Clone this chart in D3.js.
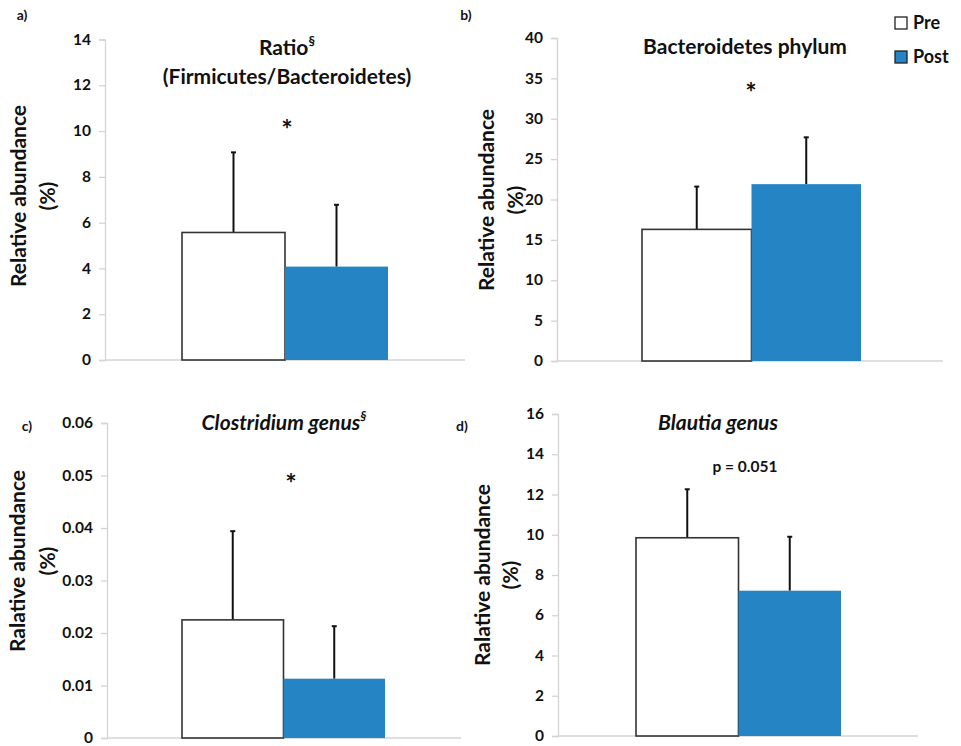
<!DOCTYPE html>
<html>
<head>
<meta charset="utf-8">
<script src="https://cdn.jsdelivr.net/npm/d3@7"></script>
<style>
  body { margin: 0; background: #fff; }
  text { font-family: Lato, "Open Sans", sans-serif; font-weight: bold; fill: #111; }
  .tick text { font-size: 15.5px; }
</style>
</head>
<body>
<div class="chart"></div>
<script>
const width = 961, height = 746;

// groups and values
const groups = ["Pre", "Post"];
const ratioMean = [5.57, 4.08];
const ratioSd = [3.5, 2.7];
const bactMean = [16.3, 21.9];
const bactSd = [5.3, 5.8];
const clostMean = [0.0225, 0.0113];
const clostSd = [0.0169, 0.0100];
const blautiaMean = [9.85, 7.22];
const blautiaSd = [2.41, 2.68];

const ratioTicks = [0, 2, 4, 6, 8, 10, 12, 14];
const bactTicks = [0, 5, 10, 15, 20, 25, 30, 35, 40];
const clostTicks = [0, 0.01, 0.02, 0.03, 0.04, 0.05, 0.06];
const blautiaTicks = [0, 2, 4, 6, 8, 10, 12, 14, 16];

const fillColor = { Pre: "#ffffff", Post: "#2484c4" };

const svg = d3.select(".chart").append("svg")
  .attr("width", width)
  .attr("height", height);

const panels = [
  { tag: "a)", tagX: 22, tagY: 20, axisX: 105, right: 465, top: 39.5, bottom: 360,
    bars: [182, 388], mean: ratioMean, sd: ratioSd, ticks: ratioTicks, fmt: d3.format("d"),
    labelX: 18, pctX: 47, labelY: 196, ylabel: "Relative abundance",
    title: [{ t: "Ratio", sup: "§", y: 55 }, { t: "(Firmicutes/Bacteroidetes)", y: 84 }],
    titleX: 287, italic: false, note: "*", noteX: 287, noteY: 139 },
  { tag: "b)", tagX: 466, tagY: 20, axisX: 557, right: 943, top: 38, bottom: 361,
    bars: [642, 861], mean: bactMean, sd: bactSd, ticks: bactTicks, fmt: d3.format("d"),
    labelX: 486, pctX: 515, labelY: 200, ylabel: "Relative abundance",
    title: [{ t: "Bacteroidetes phylum", y: 54 }],
    titleX: 745, italic: false, note: "*", noteX: 751, noteY: 102 },
  { tag: "c)", tagX: 27, tagY: 431, axisX: 107, right: 461, top: 423, bottom: 738,
    bars: [182, 385], mean: clostMean, sd: clostSd, ticks: clostTicks, fmt: d => d === 0 ? "0" : d3.format(".2f")(d),
    labelX: 17, pctX: 47, labelY: 561, ylabel: "Ralative abundance",
    title: [{ t: "Clostridium genus", sup: "§", y: 430 }],
    titleX: 284, italic: true, note: "*", noteX: 291, noteY: 493 },
  { tag: "d)", tagX: 462, tagY: 431, axisX: 558, right: 918, top: 414, bottom: 736,
    bars: [636, 841], mean: blautiaMean, sd: blautiaSd, ticks: blautiaTicks, fmt: d3.format("d"),
    labelX: 482, pctX: 510, labelY: 575, ylabel: "Ralative abundance",
    title: [{ t: "Blautia genus", y: 430 }],
    titleX: 718, italic: true, note: "p = 0.051", noteX: 745, noteY: 472 }
];

panels.forEach(function (p) {
  const g = svg.append("g");
  const y = d3.scaleLinear()
    .domain([0, p.ticks[p.ticks.length - 1]])
    .range([p.bottom, p.top]);
  const x = d3.scaleBand()
    .domain(groups)
    .range(p.bars)
    .padding(0);

  // y axis
  const axis = g.append("g")
    .attr("transform", "translate(" + p.axisX + ",0)")
    .call(d3.axisLeft(y).tickValues(p.ticks).tickFormat(p.fmt).tickSize(6).tickPadding(8));
  axis.select(".domain").attr("stroke", "#d4d4d4").attr("stroke-width", 1.3);
  axis.selectAll(".tick line").attr("stroke", "#d4d4d4").attr("stroke-width", 1.3);
  axis.selectAll(".tick text").attr("fill", "#111").attr("dy", "0.3em");

  // baseline
  g.append("line")
    .attr("x1", p.axisX).attr("x2", p.right)
    .attr("y1", p.bottom).attr("y2", p.bottom)
    .attr("stroke", "#d4d4d4").attr("stroke-width", 1.3);

  const data = groups.map((k, i) => ({ key: k, mean: p.mean[i], sd: p.sd[i] }));

  // error bars (drawn first so bar top covers the stem base)
  g.selectAll(".err").data(data).enter().append("line")
    .attr("x1", d => x(d.key) + x.bandwidth() / 2)
    .attr("x2", d => x(d.key) + x.bandwidth() / 2)
    .attr("y1", d => y(d.mean))
    .attr("y2", d => y(d.mean + d.sd))
    .attr("stroke", "#111").attr("stroke-width", 2);
  g.selectAll(".cap").data(data).enter().append("line")
    .attr("x1", d => x(d.key) + x.bandwidth() / 2 - 2.5)
    .attr("x2", d => x(d.key) + x.bandwidth() / 2 + 2.5)
    .attr("y1", d => y(d.mean + d.sd))
    .attr("y2", d => y(d.mean + d.sd))
    .attr("stroke", "#111").attr("stroke-width", 2);

  // bars
  g.selectAll(".bar").data(data).enter().append("rect")
    .attr("x", d => x(d.key))
    .attr("y", d => y(d.mean))
    .attr("width", x.bandwidth())
    .attr("height", d => y(0) - y(d.mean))
    .attr("fill", d => fillColor[d.key])
    .attr("stroke", d => d.key === "Pre" ? "#333" : "none")
    .attr("stroke-width", 1.6);

  // titles
  p.title.forEach(function (line) {
    const t = g.append("text")
      .attr("x", p.titleX)
      .attr("y", line.y)
      .attr("text-anchor", "middle")
      .style("font-size", "21px")
      .style("font-style", p.italic ? "italic" : "normal")
      .text(line.t);
    if (line.sup) {
      t.append("tspan")
        .attr("dy", -9)
        .style("font-size", "13px")
        .text(line.sup);
    }
  });

  // significance note
  g.append("text")
    .attr("x", p.noteX)
    .attr("y", p.noteY)
    .attr("text-anchor", "middle")
    .style("font-size", p.note === "*" ? "27px" : "15.5px")
    .text(p.note);

  // panel tag
  g.append("text")
    .attr("x", p.tagX).attr("y", p.tagY)
    .attr("text-anchor", "middle")
    .style("font-size", "14px")
    .text(p.tag);

  // y label
  g.append("text")
    .attr("transform", "translate(" + (p.labelX + 8) + "," + p.labelY + ") rotate(-90)")
    .attr("text-anchor", "middle")
    .style("font-size", "21px")
    .text(p.ylabel);
  g.append("text")
    .attr("transform", "translate(" + (p.pctX + 8) + "," + p.labelY + ") rotate(-90)")
    .attr("text-anchor", "middle")
    .style("font-size", "21px")
    .text("(%)");
});

// legend
const legend = svg.append("g").attr("transform", "translate(895,17)");
legend.selectAll("rect").data(groups).enter().append("rect")
  .attr("x", 0)
  .attr("y", (d, i) => i * 34)
  .attr("width", 12).attr("height", 12)
  .attr("fill", d => fillColor[d])
  .attr("stroke", "#222").attr("stroke-width", 1.3);
legend.selectAll("text").data(groups).enter().append("text")
  .attr("x", 18)
  .attr("y", (d, i) => i * 34 + 12)
  .style("font-size", "18px")
  .text(d => d);
</script>
</body>
</html>
